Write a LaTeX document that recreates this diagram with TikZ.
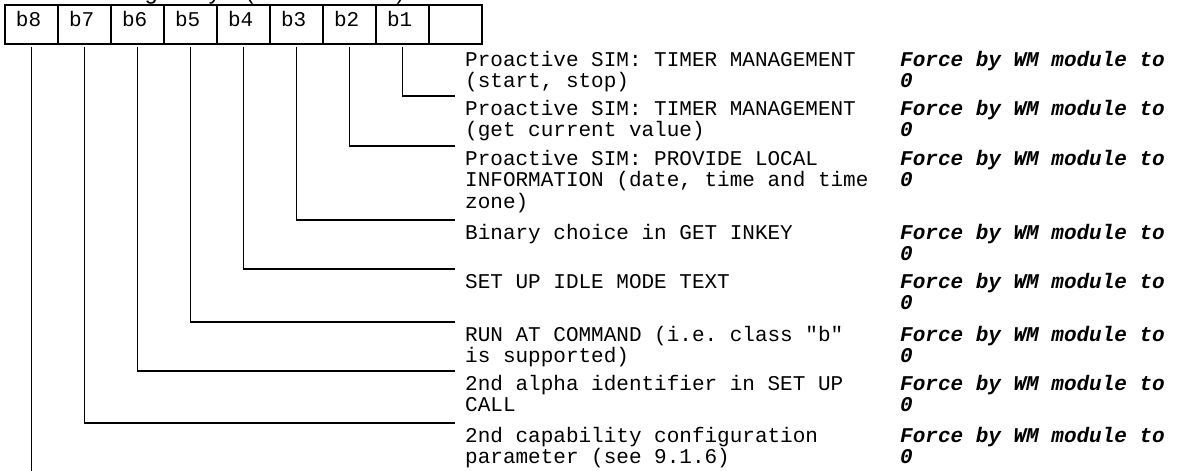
\documentclass[tikz,border=0pt]{standalone}
\usepackage{fontspec}
\setmainfont{Liberation Sans}
\setmonofont{Liberation Mono}
\usetikzlibrary{positioning}

\tikzset{
	cell/.style={draw, line width=1.8pt, outer sep=0pt, inner xsep=11pt, inner ysep=0pt,
		text width=31pt, align=left, minimum height=39pt, text height=13pt, text depth=8pt,
		font=\ttfamily\fontsize{21}{21}\selectfont},
	wire/.style={line width=1.8pt},
	desc/.style={anchor=base west, inner sep=0pt, align=left,
		font=\ttfamily\fontsize{21}{21.7}\selectfont},
	note/.style={desc, font=\ttfamily\bfseries\itshape\fontsize{21}{21.7}\selectfont},
}

\begin{document}
\begin{tikzpicture}[x=1pt,y=-1pt]
	\useasboundingbox (0,0) rectangle (1183,471);
	\clip (0,0) rectangle (1183,471);
	% heading, cut off at the top
	\node[anchor=base west, inner sep=0pt, font=\fontsize{23}{23}\selectfont] (title) at (124.2,0) {Eighth byte (Proactive SIM):};
	% bit cells
	\foreach \bit [count=\k] in {8,...,1}{
		\node[cell] (b\bit) at ({53*\k-21.5},24.5) {b\bit};
	}
	\node[cell] (spare) at (455.5,24.5) {};
	% one row per bit (base anchor sits on the last line)
	\foreach \bit/\ytop/\ybot/\n/\txt in {
		1/47/96/2/{Proactive SIM: TIMER MANAGEMENT\\(start, stop)},
		2/96/146/2/{Proactive SIM: TIMER MANAGEMENT\\(get current value)},
		3/146/220/3/{Proactive SIM: PROVIDE LOCAL\\INFORMATION (date, time and time\\zone)},
		4/220/269/1/{Binary choice in GET INKEY},
		5/269/322/1/{SET UP IDLE MODE TEXT},
		6/322/371/2/{RUN AT COMMAND (i.e. class "b"\\is supported)},
		7/371/423/2/{2nd alpha identifier in SET UP\\CALL},
		8/423/475/2/{2nd capability configuration\\parameter (see 9.1.6)}}{
		\node[desc] (d\bit) at (465,{\ytop+19+(\n-1)*21.7}) {\txt};
		\node[note] (f\bit) at (900,\ytop+40.7) {Force by WM module to\\0};
		\coordinate (e\bit) at (455,\ybot);
		\draw[wire] ([yshift=-3pt]b\bit.south) |- (e\bit);
	}
\end{tikzpicture}
\end{document}
